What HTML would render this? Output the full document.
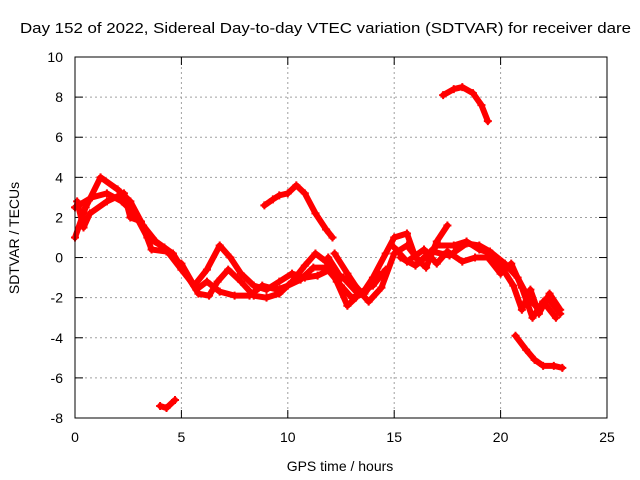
<!DOCTYPE html>
<html><head><meta charset="utf-8"><style>
body{margin:0;background:#fff}
svg{display:block;font-family:"Liberation Sans",sans-serif}
</style></head><body>
<svg id="chart" width="640" height="480">
<text x="20" y="33" font-size="14.5" textLength="611" lengthAdjust="spacingAndGlyphs">Day 152 of 2022, Sidereal Day-to-day VTEC variation (SDTVAR) for receiver dare</text>
<text x="340" y="471" text-anchor="middle" font-size="14">GPS time / hours</text>
<text transform="translate(19,238) rotate(-90)" text-anchor="middle" font-size="14">SDTVAR / TECUs</text>
<g id="grid"></g><g id="marks"></g>
<rect x="75" y="57" width="532" height="361" fill="none" stroke="#000" stroke-width="1"/>
</svg>
<script>
const xTicks=[0,5,10,15,20,25];
const yTicks=[-8,-6,-4,-2,0,2,4,6,8,10];
const track1=[[0,1],[0.5,2.5],[1.2,4],[2,3.4],[2.6,2.8],[3.2,1.6],[3.8,0.8],[4.6,0.2],[5.2,-0.8],[5.8,-1.8],[6.3,-1.9],[6.7,-1.2],[7.2,-0.6],[7.8,-1.2],[8.4,-1.9],[9,-2.0],[9.6,-1.8],[10.2,-1.2],[10.8,-0.4],[11.3,0.2],[11.8,-0.2],[12.3,-1.2],[12.8,-2.4],[13.2,-2.0]];
const track2=[[0,2.5],[0.8,3],[1.5,3.2],[2.2,2.8],[2.8,2.2],[3.4,1],[4.2,0.5],[5,-0.6],[5.6,-1.4],[6.2,-0.6],[6.8,0.6],[7.3,0],[7.8,-0.8],[8.4,-1.4],[9,-1.6],[9.6,-1.2],[10.2,-0.8],[10.8,-1.0],[11.4,-0.9],[12,-0.6],[12.6,-1],[13.3,-1.8],[14,-1.4],[14.6,-0.6]];
const track3=[[5,-0.3],[5.7,-1.6],[6.2,-1.2],[6.8,-1.7],[7.5,-1.9],[8.2,-1.9],[8.8,-1.4],[9.5,-1.6],[10,-1.4],[10.6,-1.1],[11.2,-0.5],[11.8,-0.5],[12.5,-1.4],[13,-2.0],[13.6,-1.8],[14.3,-0.8]];
const track4=[[0.1,2.8],[0.4,1.5],[0.7,2.2],[1.5,2.8],[2.3,3.2],[2.6,2.0],[3.1,1.8],[3.6,0.4],[4.3,0.3]];
const track5=[[8.9,2.6],[9.3,2.9],[9.6,3.1],[10,3.2],[10.4,3.6],[10.8,3.2],[11.3,2.2],[11.8,1.4],[12.1,1.0]];
const track6=[[4,-7.4],[4.3,-7.5],[4.7,-7.1]];
const track7=[[17.3,8.1],[17.8,8.4],[18.2,8.5],[18.7,8.2],[19.1,7.6],[19.4,6.8]];
const track8=[[20.7,-3.9],[21.2,-4.6],[21.6,-5.1],[22,-5.4],[22.5,-5.4],[22.9,-5.5]];
const track9=[[11.9,0],[12.5,-1],[13,-1.2],[13.5,-1.8],[14,-1.0],[14.6,0.2],[15,1],[15.6,1.2],[16,0],[16.5,-0.5],[17,0.8],[17.5,1.6]];
const track10=[[12.2,0.2],[12.8,-0.8],[13.3,-1.6],[13.8,-2.2],[14.4,-1.5],[15,0.2],[15.6,0.6],[16.2,-0.2],[17,0.6],[17.8,0.6],[18.4,0.8],[19,0.4],[19.6,0.2],[20,-0.4],[20.6,-1.4],[21,-2.6],[21.4,-1.6],[21.8,-2.8],[22.3,-1.8],[22.8,-2.6]];
const track11=[[15,0.5],[15.6,-0.2],[16.4,0.4],[17,-0.3],[17.5,0.3],[18.2,-0.2],[18.8,0],[19.4,0],[20,-0.8],[20.5,-0.3],[21,-1.5],[21.5,-3.0],[22,-2.2],[22.6,-3.0]];
const track12=[[15.3,0],[16,-0.4],[16.8,0.3],[17.6,0.1],[18.4,0.7],[19,0.6],[19.5,0.3],[20.2,-0.3],[20.8,-1.0],[21.3,-2.0],[21.8,-2.6],[22.2,-2.0],[22.8,-2.8]];
const tracks=[track1,track2,track3,track4,track5,track6,track7,track8,track9,track10,track11,track12];
const NS="http://www.w3.org/2000/svg";
const sx=t=>75+t*532/25;
const sy=v=>418-(v+8)*361/18;
const grid=document.getElementById('grid'),marks=document.getElementById('marks');
function mk(tag,at,parent){const e=document.createElementNS(NS,tag);for(const k in at)e.setAttribute(k,at[k]);parent.appendChild(e);return e;}
xTicks.forEach(t=>{const x=sx(t);
 if(t>0&&t<25){const l=mk('line',{x1:x,y1:57,x2:x,y2:418,stroke:'#a0a0a0','stroke-dasharray':'2,3'},grid);
 
 }
 mk('line',{x1:x,y1:418,x2:x,y2:410,stroke:'#000'},grid);mk('line',{x1:x,y1:57,x2:x,y2:65,stroke:'#000'},grid);
 const tx=mk('text',{x:x,y:442,'text-anchor':'middle','font-size':14},grid);tx.textContent=t;
 
 });
yTicks.forEach(v=>{const y=sy(v);
 if(v>-8&&v<10){const l=mk('line',{x1:75,y1:y,x2:607,y2:y,stroke:'#a0a0a0','stroke-dasharray':'2,3'},grid);
 
 }
 mk('line',{x1:75,y1:y,x2:83,y2:y,stroke:'#000'},grid);mk('line',{x1:599,y1:y,x2:607,y2:y,stroke:'#000'},grid);
 const tx=mk('text',{x:63,y:y+5,'text-anchor':'end','font-size':14},grid);tx.textContent=v;
 
 });
tracks.forEach((tr,i)=>{
 const p=mk('polyline',{points:tr.map(d=>sx(d[0])+','+sy(d[1])).join(' '),fill:'none',stroke:'#ff0000','stroke-width':6,'stroke-linejoin':'round','stroke-linecap':'round'},marks);
 
 
 tr.forEach(d=>{const x=sx(d[0]),y=sy(d[1]);
  const m=mk('path',{d:`M${x-4},${y}H${x+4}M${x},${y-4}V${y+4}`,stroke:'#ff0000','stroke-width':2},marks);
  
  });
});
</script>
</body></html>
